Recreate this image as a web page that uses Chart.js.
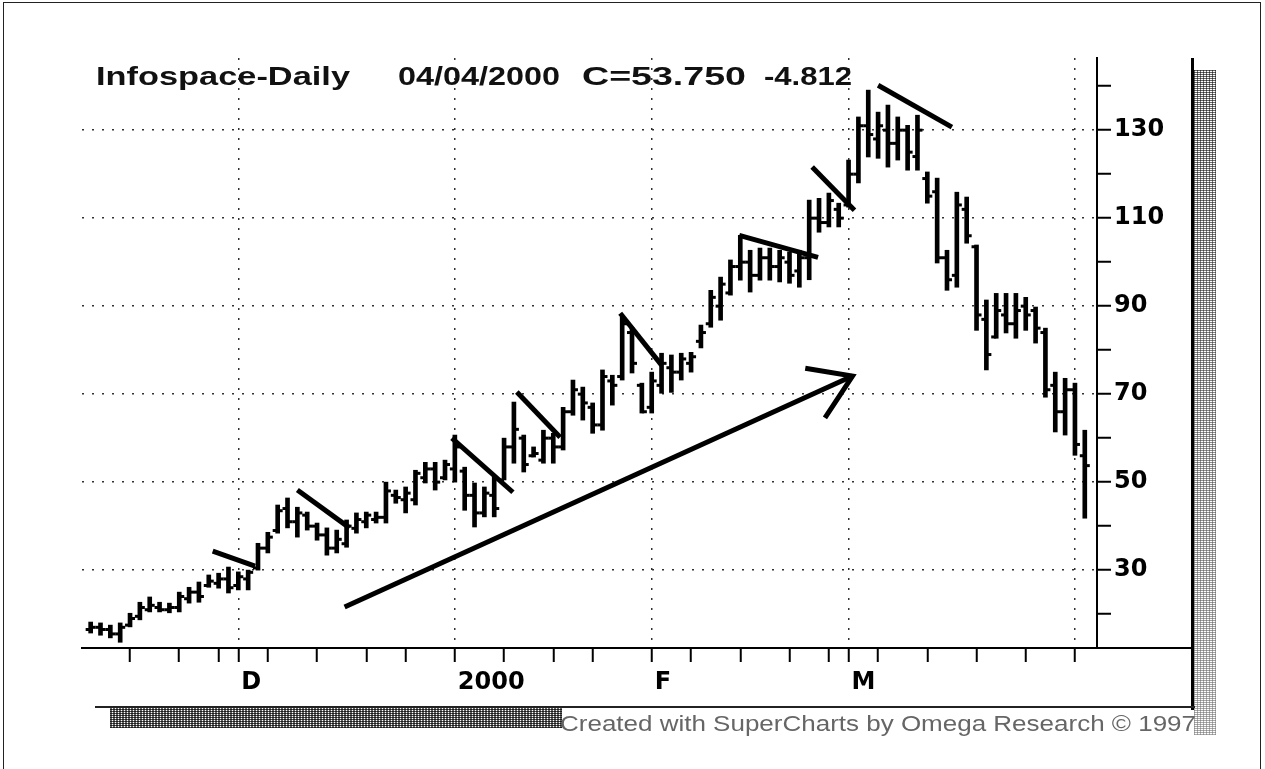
<!DOCTYPE html>
<html>
<head>
<meta charset="utf-8">
<script src="https://cdn.jsdelivr.net/npm/chart.js@4.4.0/dist/chart.umd.min.js"></script>
<style>
    body { margin: 0; background: #fff; }
    #wrap { position: relative; width: 1265px; height: 769px; overflow: hidden; }
    #frame { position: absolute; left: 3px; top: 2px; width: 1256px; height: 800px; border: 1.5px solid #222; }
    .txt { position: absolute; white-space: pre; transform-origin: 0 0; }
    .titulo { top: 61px; font: bold 26px "Liberation Sans", Arial, sans-serif; line-height: 30px; color: #111; }
    .pie { top: 711px; font: 22px "Liberation Sans", Arial, sans-serif; line-height: 25px; color: #666; }
    .deco { position: absolute; }
</style>
</head>
<body>
<div id="wrap">
    <canvas id="miGrafica" width="1265" height="769"></canvas>
    <div id="frame"></div>

    <!-- titulo del grafico -->
    <div class="txt titulo" style="left:96px" data-w="254">Infospace-Daily</div>
    <div class="txt titulo" style="left:398px" data-w="162">04/04/2000</div>
    <div class="txt titulo" style="left:582px" data-w="164">C=53.750</div>
    <div class="txt titulo" style="left:764px" data-w="88">-4.812</div>

    <!-- bordes y pie del scan -->
    <div class="deco" style="left:1097px; top:647px; width:96px; height:2px; background:#000"></div>
    <div class="deco" style="left:1191px; top:58px; width:3px; height:652px; background:#000"></div>
    <div class="deco" style="left:1194px; top:70px; width:22px; height:665px;
        background-image: linear-gradient(to bottom, rgba(255,255,255,0), rgba(255,255,255,.45)),
            repeating-linear-gradient(0deg, rgba(0,0,0,.6) 0 1px, transparent 1px 2px),
            repeating-linear-gradient(90deg, rgba(0,0,0,.55) 0 1px, transparent 1px 3px);"></div>
    <div class="deco" style="left:95px; top:706px; width:1100px; height:2px; background:#222"></div>
    <div class="deco" style="left:110px; top:708px; width:452px; height:20px;
        background-image: repeating-linear-gradient(0deg, rgba(0,0,0,.7) 0 1px, transparent 1px 2px),
            repeating-linear-gradient(90deg, rgba(0,0,0,.6) 0 2px, transparent 2px 3px);"></div>
    <div class="txt pie" style="left:560px" data-w="636">Created with SuperCharts by Omega Research © 1997</div>
</div>

<script>
"use strict";

// fechas de cada barra (dias habiles)
const fechas = [
    "11/09","11/10","11/11","11/12","11/15","11/16","11/17","11/18","11/19","11/22","11/23","11/24","11/26","11/29","11/30",
    "12/01","12/02","12/03","12/06","12/07","12/08","12/09","12/10","12/13","12/14","12/15","12/16","12/17","12/20","12/21","12/22","12/23","12/27","12/28","12/29","12/30","12/31",
    "01/03","01/04","01/05","01/06","01/07","01/10","01/11","01/12","01/13","01/14","01/18","01/19","01/20","01/21","01/24","01/25","01/26","01/27","01/28","01/31",
    "02/01","02/02","02/03","02/04","02/07","02/08","02/09","02/10","02/11","02/14","02/15","02/16","02/17","02/18","02/22","02/23","02/24","02/25","02/28","02/29",
    "03/01","03/02","03/03","03/06","03/07","03/08","03/09","03/10","03/13","03/14","03/15","03/16","03/17","03/20","03/21","03/22","03/23","03/24","03/27","03/28","03/29","03/30","03/31",
    "04/03","04/04"
];

// OHLC
const aperturas = [16.5,17.0,16.5,15.5,17.5,19.5,21.0,21.5,21.0,21.5, 23.5,25.0,26.5,27.0,28.0,26.5,28.0,30.5,35.0,39.0,
    44.0,41.0,42.5,40.0,38.0,35.0,36.0,39.5,41.0,41.5, 42.0,47.0,46.0,46.0,51.0,53.0,51.0,53.0,52.5,47.0,
    43.0,47.0,50.5,58.0,60.0,56.0,55.0,60.0,58.0,66.0, 70.0,67.0,63.0,73.0,74.0,84.0,72.0,67.0,72.0,76.0,
    75.0,77.0,82.0,86.0,90.0,93.0,99.0,100.0,97.0,101.0, 99.0,100.0,98.0,101.0,110.0,109.0,112.0,113.0,120.0,131.0,
    128.0,130.0,127.0,130.0,124.0,119.0,116.0,101.0,97.0,112.0, 103.5,87.0,83.0,88.0,86.0,90.0,89.0,84.0,72.0,66.0,
    71.0,56.0];
const maximos = [18.2,18.0,17.5,18.0,20.2,22.7,23.9,22.7,22.5,25.0, 26.1,27.3,28.9,29.3,30.7,29.6,30.0,36.1,38.6,44.8,
    46.4,44.3,43.2,40.7,39.6,39.1,41.4,43.0,43.2,43.2, 50.0,48.2,48.9,52.7,54.5,54.5,55.0,60.7,53.4,49.8,
    48.9,51.1,60.0,68.2,60.7,58.0,61.8,61.1,67.0,73.2, 71.6,68.0,75.5,74.3,87.5,85.2,72.5,75.0,79.3,78.9,
    79.3,79.5,85.7,93.6,96.6,100.5,106.1,102.7,103.2,103.2, 102.7,102.3,102.7,114.1,114.5,115.7,113.4,123.2,133.0,139.1,
    134.1,135.7,133.0,131.1,133.4,120.5,119.1,102.7,115.9,114.8, 103.9,91.4,92.9,92.9,92.9,92.0,89.8,85.0,75.0,73.6,
    72.5,61.8];
const minimos = [15.7,15.2,14.6,13.6,17.1,18.7,20.5,20.5,20.3,20.5, 22.5,22.7,26.1,25.9,24.8,25.5,25.5,30.0,33.9,38.4,
    39.6,37.5,39.1,36.8,33.4,33.9,35.2,38.4,39.6,40.7, 40.7,45.2,43.0,44.8,49.8,48.2,50.5,50.0,43.6,39.8,
    42.1,42.1,50.5,54.3,52.3,55.7,54.3,54.3,57.3,65.2, 64.1,61.1,61.8,67.5,73.2,74.8,65.7,65.7,70.2,70.4,
    73.2,75.0,80.5,85.2,86.8,92.5,95.9,93.2,95.9,95.9, 95.5,95.2,94.3,96.0,106.8,108.0,108.0,112.5,118.0,123.9,
    123.6,121.6,123.2,120.9,120.9,113.4,99.8,93.6,94.3,104.3, 84.5,75.5,82.7,83.9,82.7,84.5,81.6,69.3,61.4,60.7,
    56.1,41.8];
const cierres = [17.0,16.5,15.5,17.0,19.0,21.5,22.0,21.0,21.5,24.0, 25.0,24.0,27.5,28.0,26.0,28.5,29.5,35.0,37.5,43.5,
    41.0,43.0,40.0,38.0,35.0,37.0,40.0,41.5,42.5,42.0, 48.0,46.5,47.5,52.0,53.0,50.0,54.0,58.0,47.0,43.0,
    47.5,44.0,58.0,62.0,54.0,56.5,60.0,58.0,66.0,71.0, 68.0,63.0,74.0,72.0,86.0,77.0,66.0,73.0,77.0,75.0,
    78.0,78.5,84.0,92.0,95.0,99.0,100.0,97.0,101.0,99.0, 101.0,97.0,101.0,110.0,109.0,114.0,110.0,120.0,131.0,129.0,
    131.0,127.0,130.0,125.0,130.0,115.0,101.0,96.0,113.0,106.0, 88.0,79.0,89.0,86.0,89.0,88.0,85.0,71.0,66.0,71.0,
    58.562,53.75];

// eje X: marcas semanales y comienzo de mes
const marcasX = ["11/15","11/22","11/29","12/01","12/06","12/13","12/20","12/27","01/03","01/10","01/18","01/24",
    "02/01","02/07","02/14","02/22","02/28","03/01","03/06","03/13","03/20","03/27","04/03"];
const iniciosMes = ["12/01","01/03","02/01","03/01","04/03"];
const nombresMes = ["D","2000","F","M",""];

// eje Y
const marcasY = [20,30,40,50,60,70,80,90,100,110,120,130,140];
const etiquetasY = [30,50,70,90,110,130];

// lineas dibujadas a mano sobre el grafico (indice de barra, precio)
const lineaD = [[12.4,34.3],[16.7,30.9]];
const lineaDic = [[21.0,48.2],[26.3,39.6]];
const lineaEne1 = [[36.7,60.0],[42.9,47.7]];
const lineaEne2 = [[43.3,70.5],[47.7,60.2]];
const lineaFeb1 = [[53.8,88.4],[58.0,76.6]];
const lineaFeb2 = [[65.9,106.1],[73.9,101.1]];
const lineaMar1 = [[73.3,121.6],[77.6,111.8]];
const lineaMar2 = [[80.0,140.2],[87.5,130.7]];
const flecha = [[25.8,21.6],[77.4,74.1]];
const puntaFlecha = [[72.6,75.9],[77.4,74.1],[74.6,64.6]];

const idx = f => fechas.indexOf(f);
const aPuntos = arr => arr.map(p => ({ x: p[0], y: p[1] }));

function trazo(puntos) {
    return {
        type: "line",
        data: aPuntos(puntos),
        borderColor: "#000",
        borderWidth: 5,
        pointRadius: 0,
        fill: false,
        tension: 0
    };
}

// datasets OHLC
let barras = minimos.map((l, i) => ({ x: i, y: [l, maximos[i]] }));
let ptsApertura = aperturas.map((v, i) => ({ x: i, y: v }));
let ptsCierre = cierres.map((v, i) => ({ x: i, y: v }));

const ctx = document.getElementById("miGrafica").getContext("2d");
new Chart(ctx, {
    type: "bar",
    data: {
        datasets: [
            trazo(lineaD), trazo(lineaDic), trazo(lineaEne1), trazo(lineaEne2),
            trazo(lineaFeb1), trazo(lineaFeb2), trazo(lineaMar1), trazo(lineaMar2),
            trazo(flecha), trazo(puntaFlecha),
            {
                type: "line",
                data: ptsCierre,
                showLine: false,
                pointStyle: "dash",
                pointRadius: 5,
                pointBorderWidth: 3,
                pointBorderColor: "#000",
                pointRotation: 0
            },
            {
                type: "line",
                data: ptsApertura,
                showLine: false,
                pointStyle: "dash",
                pointRadius: 5,
                pointBorderWidth: 3,
                pointBorderColor: "#000",
                pointRotation: 180
            },
            {
                type: "bar",
                data: barras,
                backgroundColor: "#000",
                borderWidth: 0,
                barThickness: 4
            }
        ]
    },
    options: {
        responsive: false,
        animation: false,
        devicePixelRatio: 1,
        layout: { padding: { left: 82, top: 58, right: 0, bottom: 0 } },
        plugins: { legend: { display: false }, tooltip: { enabled: false } },
        font: { family: "'DejaVu Sans', sans-serif" },
        scales: {
            x: {
                type: "linear",
                min: -0.88,
                max: 102.24,
                offset: false,
                afterBuildTicks: s => { s.ticks = marcasX.map(f => ({ value: idx(f) })); },
                afterFit: s => { s.height = 121; },
                border: { display: true, color: "#000", width: 2, dash: [2, 8] },
                grid: {
                    offset: false,
                    color: c => (c.tick && iniciosMes.includes(fechas[c.tick.value])) ? "#333" : "rgba(0,0,0,0)",
                    lineWidth: 1.5,
                    tickColor: "#000",
                    tickWidth: 2,
                    tickLength: 14
                },
                ticks: {
                    autoSkip: false,
                    maxRotation: 0,
                    align: "start",
                    labelOffset: 3,
                    padding: 6,
                    color: "#000",
                    font: { family: "'DejaVu Sans', sans-serif", size: 24, weight: "bold" },
                    callback: v => {
                        let k = iniciosMes.indexOf(fechas[v]);
                        return k >= 0 ? nombresMes[k] : "";
                    }
                }
            },
            y: {
                position: "right",
                min: 12.3,
                max: 146.4,
                afterBuildTicks: s => { s.ticks = marcasY.map(v => ({ value: v })); },
                afterFit: s => { s.width = 168; },
                border: { display: true, color: "#000", width: 2, dash: [2, 8] },
                grid: {
                    color: c => (c.tick && etiquetasY.includes(c.tick.value)) ? "#333" : "rgba(0,0,0,0)",
                    lineWidth: 1.5,
                    tickColor: "#000",
                    tickWidth: 2,
                    tickLength: 14
                },
                ticks: {
                    padding: 3,
                    color: "#000",
                    font: { family: "'DejaVu Sans', sans-serif", size: 24, weight: "bold" },
                    callback: v => etiquetasY.includes(v) ? String(v) : ""
                }
            }
        }
    }
});

// estirar los textos del scan a su ancho original
document.querySelectorAll("[data-w]").forEach(el => {
    let w = el.getBoundingClientRect().width;
    el.style.transform = "scaleX(" + (el.dataset.w / w) + ")";
});
</script>
</body>
</html>
